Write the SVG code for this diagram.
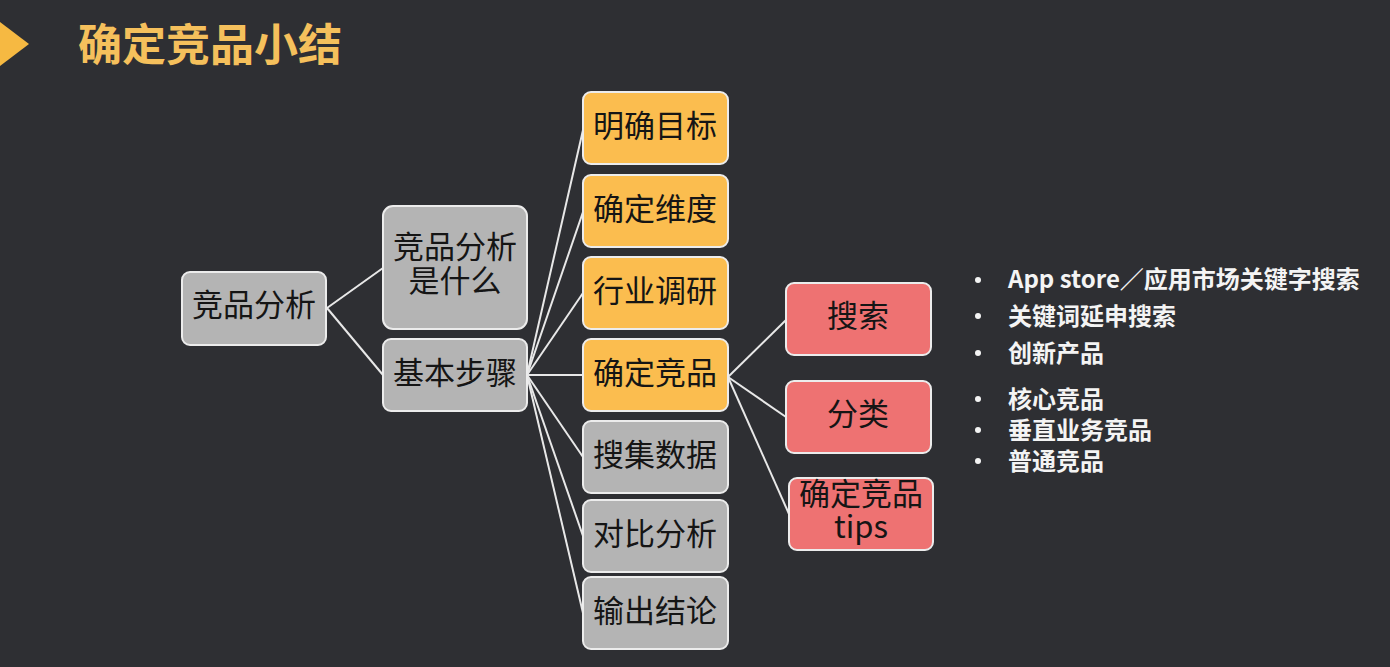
<svg xmlns="http://www.w3.org/2000/svg" width="1390" height="667" viewBox="0 0 1390 667">
<defs>
<style>
.bg{fill:#2e2f33}
.box{stroke:#ececec;stroke-width:2}
.gray{fill:#b4b4b4}
.yellow{fill:#fbbd4f}
.red{fill:#ee7272}
.t{font-family:"Noto Sans CJK SC","Noto Sans",sans-serif;font-size:31px;fill:#151515;text-anchor:middle;dominant-baseline:central}
.b{font-family:"Noto Sans CJK SC","Noto Sans",sans-serif;font-size:24px;font-weight:bold;fill:#f4f4f4;dominant-baseline:central}
.dot{fill:#f4f4f4}
.con line{stroke:#e8e8e8;stroke-width:2}
</style>
</defs>
<rect class="bg" x="0" y="0" width="1390" height="667"/>
<polygon points="0,22 29,44 0,66" fill="#f6b942"/>
<text x="78" y="42" font-family="'Noto Sans CJK SC',sans-serif" font-size="44" font-weight="bold" fill="#f5c05c" dominant-baseline="central">确定竞品小结</text>

<g id="connectors" class="con">
<line x1="327" y1="308" x2="383" y2="268"/>
<line x1="327" y1="308" x2="383" y2="375"/>
<line x1="527" y1="375" x2="583" y2="130"/>
<line x1="527" y1="375" x2="583" y2="212"/>
<line x1="527" y1="375" x2="583" y2="293"/>
<line x1="527" y1="375" x2="583" y2="375"/>
<line x1="527" y1="375" x2="583" y2="457"/>
<line x1="527" y1="375" x2="583" y2="536"/>
<line x1="527" y1="375" x2="583" y2="613"/>
<line x1="728" y1="377" x2="786" y2="320"/>
<line x1="728" y1="377" x2="786" y2="417"/>
<line x1="728" y1="377" x2="789" y2="514"/>
</g>

<g id="n-root"><rect class="box gray" x="182" y="272" width="144" height="73" rx="8"/><text class="t" x="254" y="302">竞品分析</text></g>
<g id="n-what"><rect class="box gray" x="383" y="206" width="144" height="123" rx="10"/><text class="t" x="455" y="244">竞品分析<tspan x="455" dy="34">是什么</tspan></text></g>
<g id="n-steps"><rect class="box gray" x="383" y="339" width="144" height="72" rx="8"/><text class="t" x="455" y="370">基本步骤</text></g>

<g id="n-goal"><rect class="box yellow" x="583" y="92" width="145" height="72" rx="8"/><text class="t" x="655" y="123">明确目标</text></g>
<g id="n-dim"><rect class="box yellow" x="583" y="175" width="145" height="72" rx="8"/><text class="t" x="655" y="206">确定维度</text></g>
<g id="n-industry"><rect class="box yellow" x="583" y="257" width="145" height="72" rx="8"/><text class="t" x="655" y="288">行业调研</text></g>
<g id="n-comp"><rect class="box yellow" x="583" y="339" width="145" height="72" rx="8"/><text class="t" x="655" y="370">确定竞品</text></g>
<g id="n-data"><rect class="box gray" x="583" y="421" width="145" height="72" rx="8"/><text class="t" x="655" y="452">搜集数据</text></g>
<g id="n-compare"><rect class="box gray" x="583" y="500" width="145" height="72" rx="8"/><text class="t" x="655" y="531">对比分析</text></g>
<g id="n-output"><rect class="box gray" x="583" y="577" width="145" height="72" rx="8"/><text class="t" x="655" y="608">输出结论</text></g>

<g id="n-search"><rect class="box red" x="786" y="283" width="145" height="72" rx="8"/><text class="t" x="858" y="313">搜索</text></g>
<g id="n-class"><rect class="box red" x="786" y="381" width="145" height="72" rx="8"/><text class="t" x="858" y="411">分类</text></g>
<g id="n-tips"><rect class="box red" x="789" y="478" width="144" height="72" rx="8"/><text class="t" x="861" y="491">确定竞品<tspan x="861" dy="33">tips</tspan></text></g>

<g id="bullets">
<circle class="dot" cx="978" cy="280" r="3"/><text class="b" x="1008" y="277">App store／应用市场关键字搜索</text>
<circle class="dot" cx="978" cy="316" r="3"/><text class="b" x="1008" y="314">关键词延申搜索</text>
<circle class="dot" cx="978" cy="353" r="3"/><text class="b" x="1008" y="351">创新产品</text>
<circle class="dot" cx="978" cy="399" r="3"/><text class="b" x="1008" y="397">核心竞品</text>
<circle class="dot" cx="978" cy="430" r="3"/><text class="b" x="1008" y="428">垂直业务竞品</text>
<circle class="dot" cx="978" cy="461" r="3"/><text class="b" x="1008" y="459">普通竞品</text>
</g>
</svg>
